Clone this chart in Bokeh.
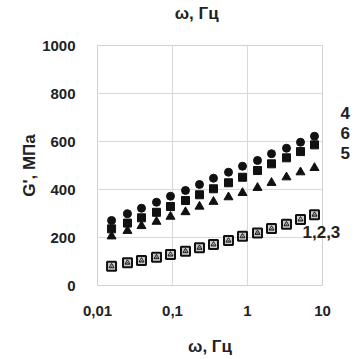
from bokeh.plotting import figure
from bokeh.models import FixedTicker, CustomJSTickFormatter, Range1d, LinearAxis, LogAxis
from bokeh.embed import file_html
from bokeh.resources import INLINE

freq = [0.0154, 0.0251, 0.0386, 0.0612, 0.094, 0.149, 0.229, 0.352, 0.558, 0.858, 1.36, 2.09, 3.31, 5.09, 7.82]
g4 = [271, 299, 322, 347, 372, 396, 421, 447, 472, 497, 521, 549, 572, 597, 622]
g6 = [236, 260, 282, 305, 329, 354, 378, 403, 428, 451, 479, 507, 532, 558, 586]
g5 = [205, 228, 248, 266, 287, 306, 329, 349, 368, 386, 407, 428, 451, 472, 490]
g1 = [80, 95, 104, 118, 129, 143, 157, 171, 187, 205, 219, 237, 255, 275, 295]
g2 = [80, 95, 104, 118, 129, 143, 157, 171, 187, 205, 219, 237, 255, 275, 295]
g3 = [80, 95, 104, 118, 129, 143, 157, 171, 187, 205, 219, 237, 255, 275, 295]

x_ticks = [0.01, 0.1, 1, 10]
x_tick_labels = ["0,01", "0,1", "1", "10"]
y_ticks = [0, 200, 400, 600, 800, 1000]

# curve labels (text, y position in MPa)
curve_labels_a = ["4", "6", "5"]
curve_label_y_a = [717, 637, 554]
curve_labels_b = ["1,2,3"]
curve_label_y_b = [221]

# top title text and its horizontal position (Hz)
top_title = ["ω, Гц"]
top_title_x = [0.21]

FONT = "Liberation Sans"
TXT = "#222222"

p = figure(width=358, height=359, x_axis_type="log", output_backend="svg",
           toolbar_location=None, x_range=Range1d(0.01, 10), y_range=Range1d(0, 1000),
           frame_width=225, frame_height=240,
           min_border_left=97, min_border_right=36, min_border_top=45, min_border_bottom=74)
p.background_fill_color = "white"
p.border_fill_color = "white"
p.outline_line_color = "#d0d0d0"
p.outline_line_width = 1

for ax in (p.xaxis[0], p.yaxis[0]):
    ax.axis_line_color = None
    ax.major_tick_line_color = None
    ax.minor_tick_line_color = None
    ax.major_label_text_font = FONT
    ax.major_label_text_font_style = "bold"
    ax.major_label_text_font_size = "15px"
    ax.major_label_text_color = TXT
    ax.axis_label_text_font = FONT
    ax.axis_label_text_font_style = "bold"
    ax.axis_label_text_font_size = "17px"
    ax.axis_label_text_color = TXT

p.xaxis.ticker = FixedTicker(ticks=x_ticks)
p.xaxis.formatter = CustomJSTickFormatter(
    args=dict(labs=x_tick_labels, tvals=x_ticks),
    code="""for (let i = 0; i < tvals.length; i++) { if (Math.abs(Math.log10(tick) - Math.log10(tvals[i])) < 1e-6) return labs[i]; } return '';""")
p.yaxis.ticker = FixedTicker(ticks=y_ticks)
p.xaxis.major_label_standoff = 14
p.yaxis.major_label_standoff = 16
p.xaxis.axis_label = "ω, Гц"
p.yaxis.axis_label = "G', МПа"
p.xaxis.axis_label_standoff = 18
p.yaxis.axis_label_standoff = 0

p.xgrid.grid_line_color = "#d9d9d9"
p.ygrid.grid_line_color = "#d9d9d9"
p.xgrid.ticker = FixedTicker(ticks=x_ticks)
p.ygrid.ticker = FixedTicker(ticks=y_ticks)


def style_text_axis(ax, standoff):
    ax.axis_line_color = None
    ax.major_tick_line_color = None
    ax.minor_tick_line_color = None
    ax.major_label_text_font = FONT
    ax.major_label_text_font_style = "bold"
    ax.major_label_text_font_size = "17px"
    ax.major_label_text_color = TXT
    ax.major_label_standoff = standoff
    return ax


def label_axis(labels, yvals, standoff):
    ax = LinearAxis(ticker=FixedTicker(ticks=yvals),
                    formatter=CustomJSTickFormatter(
                        args=dict(labs=labels, tvals=yvals),
                        code="""for (let i = 0; i < tvals.length; i++) { if (Math.abs(tick - tvals[i]) < 1e-6) return labs[i]; } return '';"""))
    return style_text_axis(ax, standoff)

p.add_layout(label_axis(curve_labels_a, curve_label_y_a, 12), "right")
p.add_layout(label_axis(curve_labels_b, curve_label_y_b, -56), "right")

top_ax = LogAxis(ticker=FixedTicker(ticks=top_title_x),
                 formatter=CustomJSTickFormatter(args=dict(labs=top_title),
                                                 code="return labs[0];"))
style_text_axis(top_ax, 23)
top_ax.major_tick_out = 0
top_ax.major_tick_in = 0
top_ax.axis_label_standoff = 0
p.add_layout(top_ax, "above")

dark = "#111111"
p.scatter(freq, g4, marker="circle", size=8, color=dark)
p.scatter(freq, g6, marker="square", size=8, color=dark)
p.scatter(freq, g5, marker="triangle", size=9, color=dark)
p.scatter(freq, g1, marker="square", size=9, fill_color="#cccccc", line_color=dark, line_width=2)
p.scatter(freq, g2, marker="triangle", size=5, fill_color=None, line_color=dark, line_width=1)
p.scatter(freq, g3, marker="x", size=4, line_color="#555555", line_width=1)

open("out.html", "w").write(file_html(p, INLINE))
